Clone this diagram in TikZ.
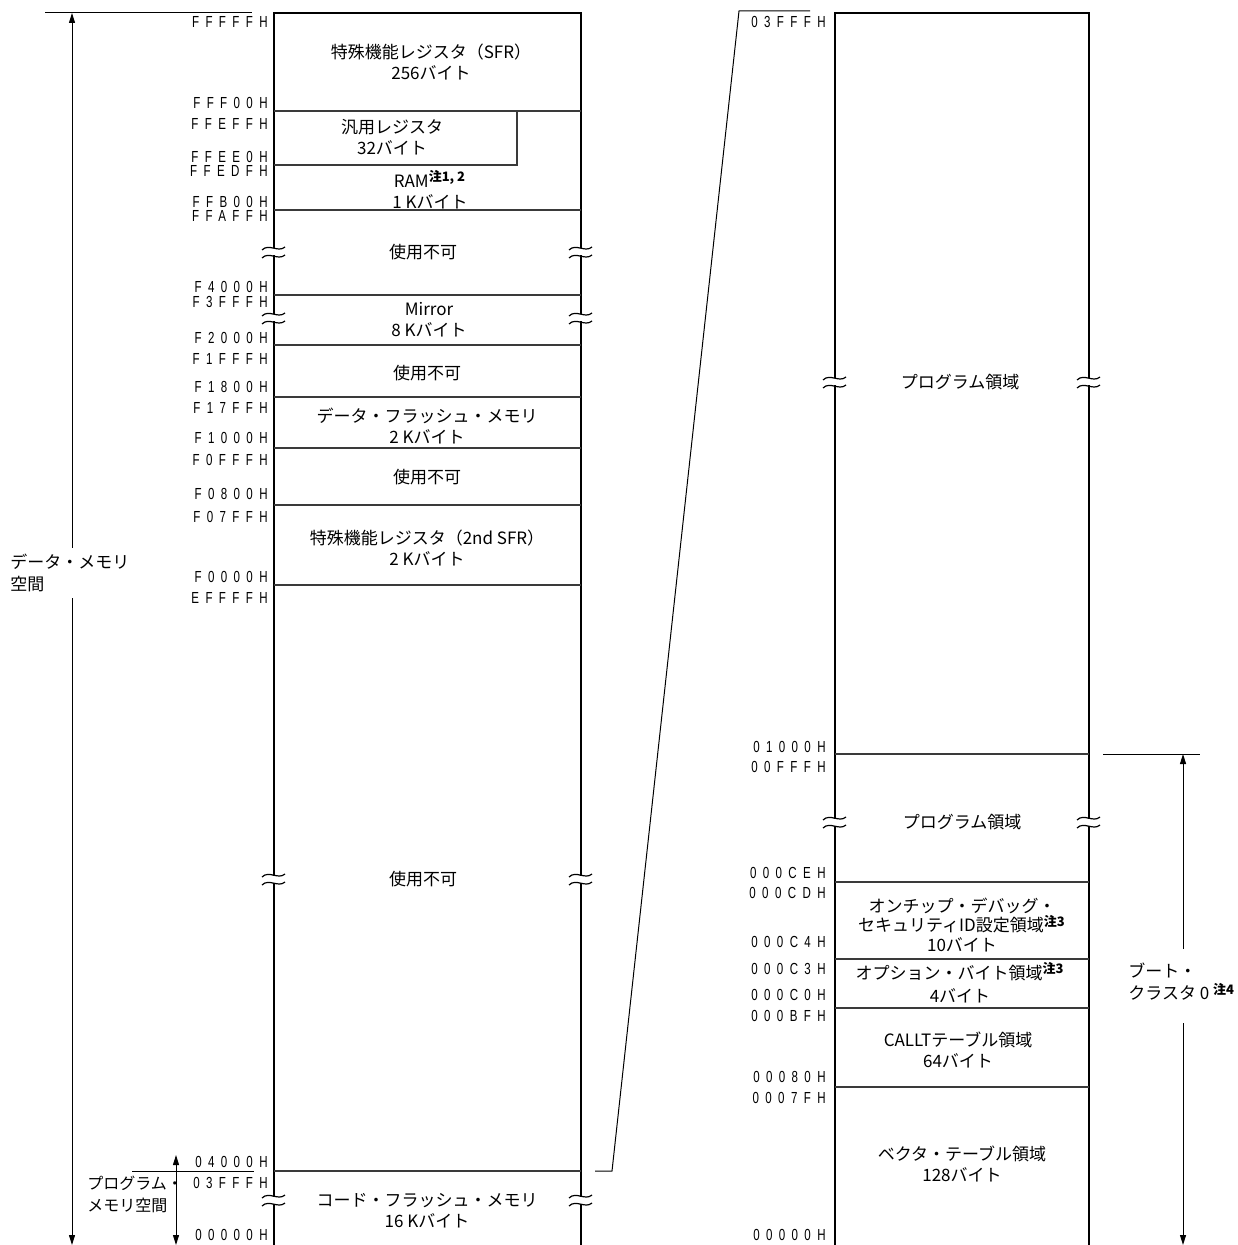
\documentclass[tikz,border=0pt]{standalone}
\usepackage{fontspec}
\setmainfont{Noto Sans CJK JP}
\newfontfamily\addrfont[FakeStretch=0.72,LetterSpace=40]{Liberation Sans}
\usepackage{tikz}
\usetikzlibrary{arrows.meta,positioning,calc}
\definecolor{ink}{HTML}{000000}
\definecolor{rulegray}{HTML}{3A3A3A}
\tikzset{
  wall/.style={line width=1.1pt, draw=ink},
  divider/.style={line width=0.55pt, draw=rulegray},
  guide/.style={line width=0.5pt, draw=ink},
  dimarrow/.style={-{Triangle[length=5pt,width=3pt]}, line width=0.5pt, draw=ink},
  addr/.style={font=\addrfont\fontsize{8}{9}\selectfont, anchor=east, inner sep=0pt},
  area/.style={font=\fontsize{8.5}{10.5}\selectfont, align=center, inner sep=0pt},
  sidelabel/.style={font=\fontsize{8.5}{11}\selectfont, align=left, anchor=west, inner sep=0pt},
  brk/.pic={
    \fill[white] (-4,-3.5) rectangle (4,3.5);
    \draw[line width=0.6pt] (-12,-2) .. controls (-5,-9) and (4,1) .. (11,-5);
    \draw[line width=0.6pt] (-12,6) .. controls (-5,-1) and (4,9) .. (11,3);
  },
}
\newcommand{\note}[1]{\textsuperscript{\bfseries\fontsize{6.5}{7}\selectfont #1}}

\begin{document}
\begin{tikzpicture}[x=0.5pt,y=-0.5pt]
\useasboundingbox (0,0) rectangle (1237,1245);

% Data memory space (left)
\draw[wall] (274,1245) -- (274,13) -- (581,13) -- (581,1245);
\foreach \y in {111,210,295,345,397,448,505,585,1171}
  \draw[divider] (274,\y) -- (581,\y);
\draw[divider] (274,165) -- (517,165) -- (517,111);

\foreach \y/\a in {22/FFFFFH,103/FFF00H,124/FFEFFH,157/FFEE0H,171/FFEDFH,
                   202/FFB00H,216/FFAFFH,287/F4000H,302/F3FFFH,338/F2000H,
                   359/F1FFFH,387/F1800H,408/F17FFH,438/F1000H,460/F0FFFH,
                   494/F0800H,517/F07FFH,577/F0000H,598/EFFFFH,
                   1162/04000H,1183/03FFFH,1235/00000H}
  \node[addr] (aL-\y) at (268,\y) {\a};

\node[area] (sfr) at (431,62) {特殊機能レジスタ（SFR）\\256バイト};
\node[area] (gpr) at (392,137) {汎用レジスタ\\32バイト};
\node[area] (ram) at (430,190) {RAM\note{注1, 2}\\1 Kバイト};
\node[area] (nu1) at (423,252) {使用不可};
\node[area] (mirror) at (429,320) {Mirror\\8 Kバイト};
\node[area] (nu2) at (427,373) {使用不可};
\node[area] (dflash) at (427,426) {データ・フラッシュ・メモリ\\2 Kバイト};
\node[area] (nu3) at (427,477) {使用不可};
\node[area] (sfr2) at (427,548) {特殊機能レジスタ（2nd SFR）\\2 Kバイト};
\node[area] (nu4) at (423,879) {使用不可};
\node[area] (cflash) at (427,1211) {コード・フラッシュ・メモリ\\16 Kバイト};

\foreach \y in {252,318,879,1200} {
  \pic at (274,\y) {brk};
  \pic at (581,\y) {brk};
}

% Space arrows (left)
\coordinate (dm-top) at (72,13);
\coordinate (dm-bot) at (72,1245);
\node[sidelabel] (dm-lbl) at (10,573) {データ・メモリ\\空間};
\draw[guide] (45,13) -- (252,13);
\draw[dimarrow] (dm-lbl.north -| dm-top) ++(0,-6) -- (dm-top);
\draw[dimarrow] (dm-lbl.south -| dm-bot) ++(0,6) -- (dm-bot);

\coordinate (pm-top) at (176,1155);
\coordinate (pm-bot) at (176,1245);
\draw[guide] (132,1171) -- (254,1171);
\draw[dimarrow, {Triangle[length=5pt,width=3pt]}-{Triangle[length=5pt,width=3pt]}] (pm-top) -- (pm-bot);
\node[sidelabel, font=\fontsize{8}{11}\selectfont] (pm-lbl) at (87,1194) {プログラム・\\メモリ空間};

% Zoom line
\coordinate (zm-a) at (595,1171);
\coordinate (zm-b) at (612,1171);
\coordinate (zm-c) at (739,11);
\coordinate (zm-d) at (810,11);
\draw[guide] (zm-a) -- (zm-b) -- (zm-c) -- (zm-d);

% Program memory space (right)
\draw[wall] (835,1245) -- (835,13) -- (1089,13) -- (1089,1245);
\foreach \y in {754,882,959,1008,1087}
  \draw[divider] (835,\y) -- (1089,\y);

\foreach \y/\a in {22/03FFFH,747/01000H,767/00FFFH,873/000CEH,893/000CDH,
                   942/000C4H,969/000C3H,995/000C0H,1016/000BFH,
                   1077/00080H,1098/0007FH,1235/00000H}
  \node[addr] (aR-\y) at (826,\y) {\a};

\node[area] (prog1) at (960,382) {プログラム領域};
\node[area] (prog2) at (962,822) {プログラム領域};
\node[area, font=\fontsize{8.5}{9.8}\selectfont] (ocd) at (962,925) {オンチップ・デバッグ・\\セキュリティID設定領域\note{注3}\\10バイト};
\node[area, font=\fontsize{8.5}{11.5}\selectfont] (opt) at (960,983) {オプション・バイト領域\note{注3}\\4バイト};
\node[area] (callt) at (958,1050) {CALLTテーブル領域\\64バイト};
\node[area] (vect) at (962,1164) {ベクタ・テーブル領域\\128バイト};

\foreach \y in {382,822} {
  \pic at (835,\y) {brk};
  \pic at (1089,\y) {brk};
}

% Boot cluster arrow
\coordinate (bc-top) at (1183,754);
\coordinate (bc-bot) at (1183,1245);
\draw[guide] (1103,754) -- (1200,754);
\node[sidelabel] (bc-lbl) at (1128,982) {ブート・\\クラスタ 0 \note{注4}};
\draw[dimarrow] (1183,949) -- (bc-top);
\draw[dimarrow] (1183,1023) -- (bc-bot);
\end{tikzpicture}
\end{document}
